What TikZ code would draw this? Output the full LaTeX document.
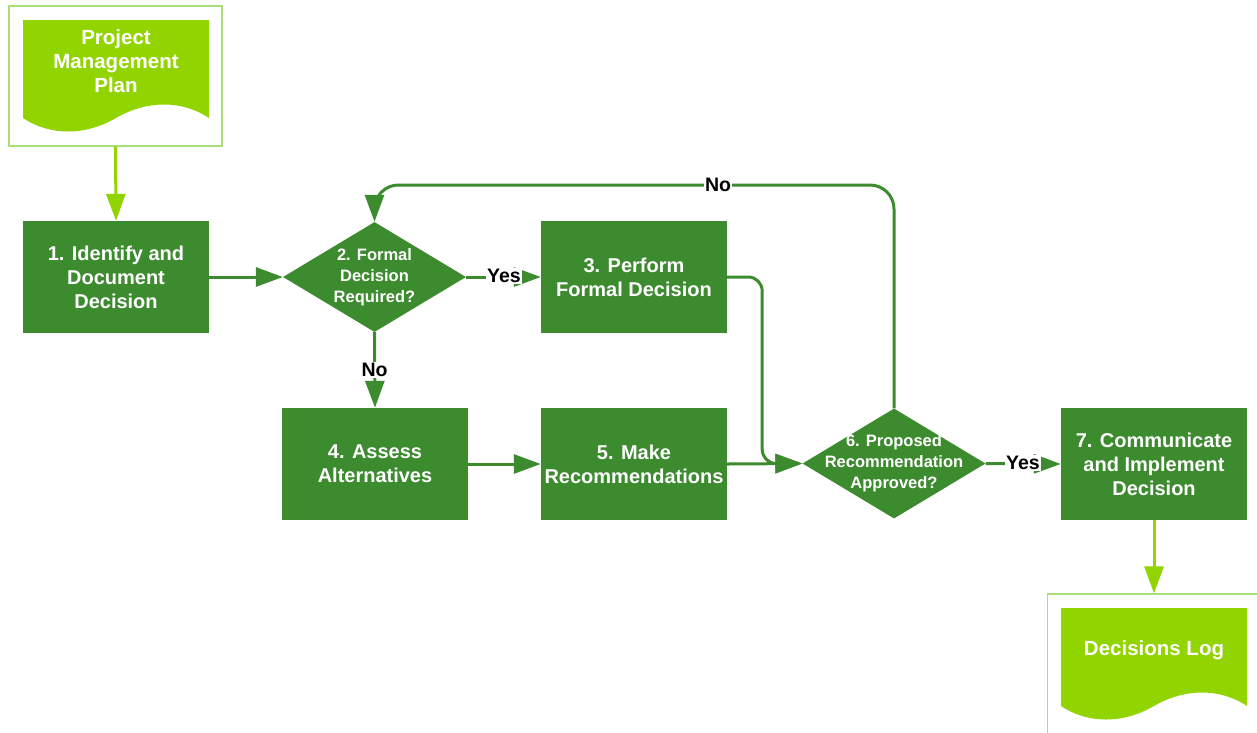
\documentclass[tikz,border=0pt]{standalone}
\usepackage{fontspec}
\setmainfont{Liberation Sans}
\usetikzlibrary{shapes.geometric,arrows.meta}
\definecolor{dkgreen}{RGB}{61,139,47}
\definecolor{ltgreen}{RGB}{146,212,0}
\definecolor{frameg}{RGB}{170,222,120}
\begin{document}
\begin{tikzpicture}[x=1pt,y=-1pt,
  proc/.style={fill=dkgreen, minimum width=186pt, minimum height=112pt, inner sep=0pt,
    text=white, font=\fontsize{20}{24}\selectfont\bfseries, align=center},
  decision/.style={diamond, fill=dkgreen, minimum width=183pt, minimum height=110pt, inner sep=0pt},
  dtext/.style={text=white, font=\fontsize{16.5}{21}\selectfont\bfseries, align=center, inner sep=0pt},
  doctext/.style={text=white, font=\fontsize{20.5}{24}\selectfont\bfseries, align=center, inner sep=0pt},
  docframe/.style={draw=frameg, line width=1.3pt, fill=white, minimum width=213pt, minimum height=140pt, inner sep=0pt},
  conn/.style={draw=dkgreen, line width=3pt, -{Triangle[length=27pt,width=19pt]}},
  lconn/.style={draw=ltgreen, line width=3pt, -{Triangle[length=27pt,width=19pt]}},
  lbl/.style={fill=white, text=black, font=\fontsize{19.5}{21}\selectfont\bfseries, inner sep=1pt}
]
\useasboundingbox (0,0) rectangle (1257,732);

% input document: project management plan
\node[docframe] (pmpf) at (115.5,76) {};
\fill[ltgreen] (23,20) -- (209,20) -- (209,118)
  .. controls (182,100) and (147,100) .. (116,118)
  .. controls (85,136) and (50,136) .. (23,118) -- cycle;
\node[doctext] (pmp) at (116,61) {Project\\Management\\Plan};

% output document: decisions log
\node[docframe] (logf) at (1154,664) {};
\fill[ltgreen] (1061,608) -- (1247,608) -- (1247,706)
  .. controls (1220,688) and (1185,688) .. (1154,706)
  .. controls (1123,724) and (1088,724) .. (1061,706) -- cycle;
\node[doctext] (log) at (1154,650) {Decisions Log};

% process steps
\node[proc] (b1) at (116,277) {1. Identify and\\Document\\Decision};
\node[proc] (b3) at (634,277) {3. Perform\\Formal Decision};
\node[proc] (b4) at (375,464) {4. Assess\\Alternatives};
\node[proc] (b5) at (634,464) {5. Make\\Recommendations};
\node[proc] (b7) at (1154,464) {7. Communicate\\and Implement\\Decision};

% decisions
\node[decision] (d2) at (374.5,277) {};
\node[dtext] (d2t) at (d2) {2. Formal\\Decision\\Required?};
\node[decision] (d6) at (894,463.5) {};
\node[dtext] (d6t) at (d6) {6. Proposed\\Recommendation\\Approved?};

% helper point for the loop-back line
\coordinate (loopy) at (0,185);

% connectors
\draw[lconn] (pmpf.south) -- (b1.north);
\draw[conn] (b1.east) -- (d2.west);
\draw[conn] (d2.east) -- (b3.west);
\draw[conn] (d2.south) -- (b4.north);
\draw[conn] (b4.east) -- (b5.west);
\draw[conn] (b5.east) -- (d6.west);
\draw[conn, rounded corners=14pt] (b3.east) -- ++(35,0) |- (d6.west);
\draw[conn, rounded corners=24pt] (d6.north) -- (d6.north |- loopy) -- (d2.north |- loopy) -- (d2.north);
\draw[conn] (d6.east) -- (b7.west);
\draw[lconn] (b7.south) -- (logf.north);

% branch labels
\node[lbl] (yes1) at (504,276) {Yes};
\node[lbl] (no1) at (374.5,370) {No};
\node[lbl] (no2) at (718,185) {No};
\node[lbl] (yes2) at (1023,463) {Yes};
\end{tikzpicture}
\end{document}
